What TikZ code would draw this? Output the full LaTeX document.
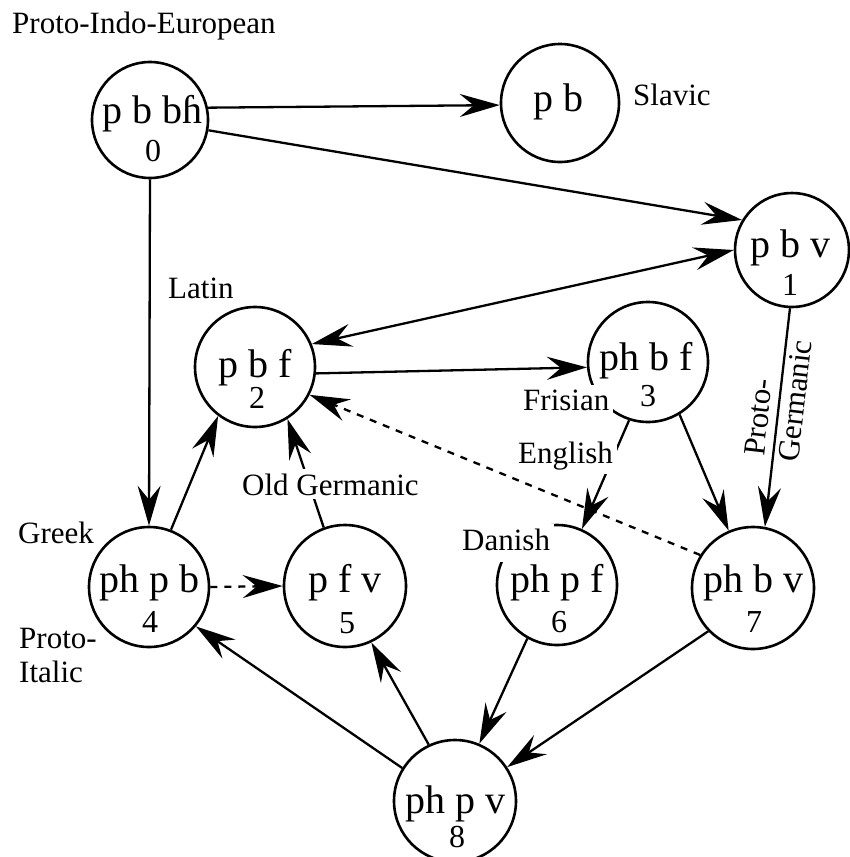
\documentclass[tikz,border=0pt]{standalone}
\usepackage{fontspec}
\setmainfont{Liberation Serif}
\usetikzlibrary{arrows.meta}
\begin{document}
\begin{tikzpicture}[x=1pt,y=-1pt,
  circ/.style={circle,draw,line width=2.6pt,minimum size=#1,inner sep=0pt},
  circ/.default=120pt,
  big/.style={anchor=base,font=\fontsize{40}{41}\selectfont,inner sep=0pt},
  num/.style={anchor=base,font=\fontsize{32}{34}\selectfont,inner sep=0pt},
  lab/.style={anchor=base west,font=\fontsize{31}{34}\selectfont,inner sep=0pt},
  wlab/.style={lab,fill=white,inner sep=4pt},
  tip/.style={Stealth[length=40pt,width=23pt,inset=14pt]},
  edge/.style={line width=2.3pt,-{Stealth[length=40pt,width=23pt,inset=14pt]}},
  dedge/.style={edge,dash pattern=on 7pt off 7pt},
  bedge/.style={line width=2.3pt,{Stealth[length=40pt,width=23pt,inset=14pt]}-{Stealth[length=40pt,width=23pt,inset=14pt]}}
]
\useasboundingbox (0,0) rectangle (850,857);

% circles
\node[circ=116pt] (n0) at (150,120) {};
\node[circ=118pt] (sl) at (560,103) {};
\node[circ=114pt] (n1) at (792,250) {};
\node[circ] (n2) at (255,367) {};
\node[circ] (n3) at (648,362) {};
\node[circ] (n4) at (149,587) {};
\node[circ=122pt] (n5) at (345,586) {};
\node[circ] (n6) at (557,585) {};
\node[circ=122pt] (n7) at (753,588) {};
\node[circ=122pt] (n8) at (455,801) {};

% node texts
\node[big] (t0) at (152,123) {p b bɦ};
\node[num] (d0) at (153,161) {0};
\node[big] (ts) at (558,111) {p b};
\node[big] (t1) at (790,257) {p b v};
\node[num] (d1) at (790,295) {1};
\node[big] (t2) at (255,377) {p b f};
\node[num] (d2) at (257,408) {2};
\node[big] (t3) at (646,370) {ph b f};
\node[num] (d3) at (648,406) {3};
\node[big] (t4) at (149,592) {ph p b};
\node[num] (d4) at (150,632) {4};
\node[big] (t5) at (345,592) {p f v};
\node[num] (d5) at (347,633) {5};
\node[big] (t6) at (557,592) {ph p f};
\node[num] (d6) at (559,632) {6};
\node[big] (t7) at (753,592) {ph b v};
\node[num] (d7) at (754,632) {7};
\node[big] (t8) at (455,813) {ph p v};
\node[num] (d8) at (457,847) {8};

% edges
\draw[edge] (n0.12) -- (sl.182);
\draw[edge] (n0.-10) -- (n1.149);
\draw[bedge] (n2.22) -- (n1.180);
\draw[edge] (n2.-6) -- (n3.185);
\draw[edge] (n1.-92) -- (n7.79);
\draw[edge] (n3.-59) -- (n7.113);
\draw[edge] (n3.-108) -- (n6.66);
\draw[dedge] (n7.148) -- (n2.-27);
\draw[edge] (n4.69) -- (n2.-127);
\draw[edge] (n5.110) -- (n2.-58);
\draw[edge] (n0.south) -- (n4.north);
\draw[dedge] (n4.east) -- (n5.west);
\draw[edge] (n8.148) -- (n4.-40);
\draw[edge] (n8.115) -- (n5.-65);
\draw[edge] (n6.-119) -- (n8.67);
\draw[edge] (n7.-136) -- (n8.33);

% labels
\node[lab] (lpie) at (12,33) {Proto-Indo-European};
\node[lab] (lsl) at (633,105) {Slavic};
\node[lab] (llat) at (168,298) {Latin};
\node[wlab] (lfri) at (519,410) {Frisian};
\node[wlab] (leng) at (514,463) {English};
\node[wlab,text depth=8pt] (ldan) at (458,550) {Danish};
\node[wlab] (logr) at (238,495) {Old Germanic};
\node[lab] (lgr) at (18,543) {Greek};
\node[lab] (lpi1) at (19,648) {Proto-};
\node[lab] (lpi2) at (19,682) {Italic};
\node[lab,rotate=83.5] (lpg1) at (764,457) {Proto-};
\node[lab,rotate=83.5] (lpg2) at (798,463) {Germanic};
\end{tikzpicture}
\end{document}
